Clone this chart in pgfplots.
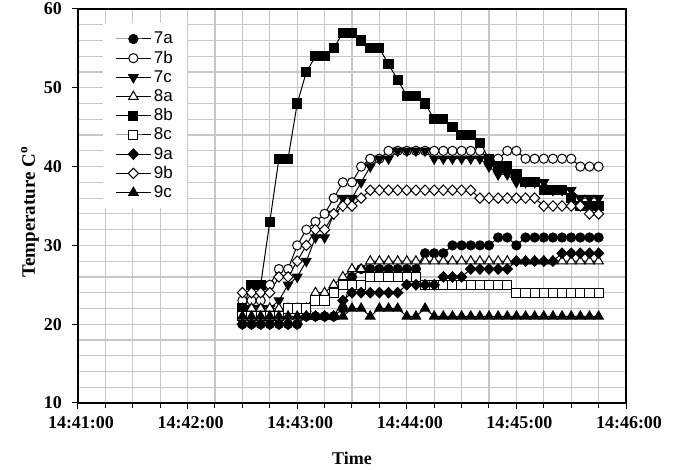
\documentclass[border=0pt]{standalone}
\usepackage{fontspec}
\setmainfont{Liberation Serif}
\newfontfamily\arial{Liberation Sans}
\usepackage{pgfplots}
\pgfplotsset{compat=1.18}
\usepackage{pgfplotstable}
\usetikzlibrary{calc}

% time in seconds after 14:41:00, temperatures of the nine probes
\pgfplotstableread{
t   a7 b7 c7 a8 b8 c8 a9 b9 c9
90  20 23 22 22 22 21 20 24 21
95  20 23 22 22 25 21 20 24 21
100 20 23 22 22 25 21 20 24 21
105 20 25 22 22 33 21 20 24 21
110 20 27 23 22 41 21 20 26 21
115 20 27 25 22 41 22 20 26 21
120 20 30 26 22 48 22 20 28 21
125 21 32 28 22 52 22 21 30 21
130 21 33 31 24 54 23 21 32 21
135 21 34 31 24 54 23 21 32 21
140 21 36 34 25 55 24 21 34 21
145 22 38 36 26 57 25 23 35 21
150 26 38 36 27 57 25 24 35 22
155 27 40 38 27 56 25 24 36 22
160 27 41 40 28 55 26 24 37 21
165 27 41 41 28 55 26 24 37 22
170 27 42 41 28 53 26 24 37 22
175 27 42 42 28 51 26 24 37 22
180 27 42 42 28 49 26 25 37 21
185 27 42 42 28 49 26 25 37 21
190 29 42 42 28 48 25 25 37 22
195 29 42 41 28 46 25 25 37 21
200 29 42 41 28 46 25 26 37 21
205 30 42 41 28 45 25 26 37 21
210 30 42 41 28 44 25 26 37 21
215 30 42 41 28 44 25 27 37 21
220 30 42 41 28 43 25 27 36 21
225 30 41 40 28 41 25 27 36 21
230 31 41 39 28 40 25 27 36 21
235 31 42 39 28 40 25 27 36 21
240 30 42 38 28 39 24 28 36 21
245 31 41 38 28 38 24 28 36 21
250 31 41 38 28 38 24 28 36 21
255 31 41 38 28 37 24 28 35 21
260 31 41 37 28 37 24 28 35 21
265 31 41 37 28 37 24 29 35 21
270 31 41 37 28 36 24 29 35 21
275 31 40 36 28 35 24 29 35 21
280 31 40 36 28 35 24 29 34 21
285 31 40 36 28 35 24 29 34 21
}\temps

\begin{document}
\begin{tikzpicture}
\begin{axis}[
    scale only axis,
    width=274pt, height=197pt,
    xmin=0, xmax=300, ymin=10, ymax=60,
    xtick={0,60,...,300},
    xticklabels={14:41:00,14:42:00,14:43:00,14:44:00,14:45:00,14:46:00},
    minor x tick num=3,
    ytick={10,20,...,60},
    minor y tick num=4,
    grid=both,
    major grid style={draw=black!22, line width=0.6pt},
    minor grid style={draw=black!22, line width=0.6pt},
    tick align=outside, xtick pos=bottom, ytick pos=left,
    major tick length=3pt, minor tick length=2.6pt,
    minor y tick style={draw=none},
    tick style={black, line width=0.5pt},
    axis line style={black, line width=0.6pt},
    tick label style={font=\bfseries\fontsize{9}{10}\selectfont,
        /pgf/number format/assume math mode=true},
    xticklabel style={xshift=1.5pt},
    yticklabel style={xshift=-1.5pt},
    xlabel={\bfseries Time},
    ylabel={\bfseries Temperature C\textsuperscript{o}},
    xlabel style={font=\fontsize{9}{10}\selectfont,
        at={(axis description cs:0.5,-0.1396)}, anchor=center},
    ylabel style={font=\fontsize{9.5}{11}\selectfont,
        at={(axis description cs:-0.0876,0.485)}, anchor=center},
    legend style={at={(axis description cs:0.0456,0.9645)}, anchor=north west,
        draw=none, fill=white, font=\arial\fontsize{8.5}{9}\selectfont,
        inner xsep=6pt, inner ysep=3pt, row sep=0pt,
        nodes={inner sep=1.3pt, text height=6pt, text depth=1pt}},
    legend cell align=left,
    legend image code/.code={\draw[mark repeat=2,mark phase=2,#1]
        plot coordinates {(0pt,0pt) (8.75pt,0pt) (17.5pt,0pt)};},
    every axis plot/.append style={black, line width=0.5pt, mark size=2.3pt},
]
\addplot[mark=*] table[x=t,y=a7] {\temps};
\addplot[mark=*, mark options={fill=white}] table[x=t,y=b7] {\temps};
\addplot[mark=triangle*, mark size=2.7pt, mark options={rotate=180}] table[x=t,y=c7] {\temps};
\addplot[mark=triangle*, mark size=2.7pt, mark options={fill=white}] table[x=t,y=a8] {\temps};
\addplot[mark=square*] table[x=t,y=b8] {\temps};
\addplot[mark=square*, mark options={fill=white}] table[x=t,y=c8] {\temps};
\addplot[mark=diamond*, mark size=2.6pt, mark options={xscale=1.3}] table[x=t,y=a9] {\temps};
\addplot[mark=diamond*, mark size=2.6pt, mark options={xscale=1.3, fill=white}] table[x=t,y=b9] {\temps};
\addplot[mark=triangle*, mark size=2.7pt] table[x=t,y=c9] {\temps};
\legend{7a,7b,7c,8a,8b,8c,9a,9b,9c}
\coordinate (ll) at (rel axis cs:0,0);
\coordinate (ur) at (rel axis cs:1,1);
\end{axis}
\pgfresetboundingbox
\path[use as bounding box] ($(ll)+(-39pt,-33.5pt)$) rectangle ($(ur)+(24.5pt,4.5pt)$);
\end{tikzpicture}
\end{document}
